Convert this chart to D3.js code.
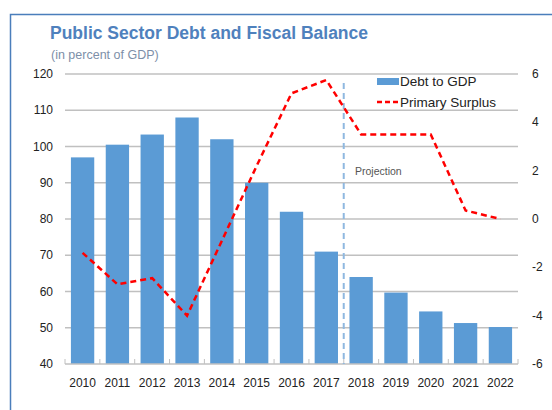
<!DOCTYPE html>
<html>
<head>
<meta charset="utf-8">
<script src="https://cdn.jsdelivr.net/npm/d3@7"></script>
<style>
  body { margin: 0; background: #fff; }
  text { font-family: "Liberation Sans", Arial, sans-serif; }
</style>
</head>
<body>
<svg id="chart" width="552" height="410"></svg>
<script>
// data
const years = ["2010", "2011", "2012", "2013", "2014", "2015", "2016",
               "2017", "2018", "2019", "2020", "2021", "2022"];
const debtToGdp = [97, 100.5, 103.3, 108, 102, 90, 82, 71, 64, 59.7, 54.5, 51.3, 50.2];
const primarySurplus = [-1.4, -2.7, -2.45, -4.0, -0.9, 2.2, 5.2, 5.75, 3.5, 3.5, 3.5, 0.35, 0.0];
const leftTicks = [40, 50, 60, 70, 80, 90, 100, 110, 120];
const rightTicks = [-6, -4, -2, 0, 2, 4, 6];

let svg = d3.select("#chart");
let plotLeft = 65, plotRight = 518, plotTop = 74, plotBottom = 364;

// frame
svg.append("path")
    .attr("d", "M10.5,410 L10.5,14.5 L552,14.5")
    .attr("fill", "none")
    .attr("stroke", "#4a7ebb")
    .attr("stroke-width", 1.5);

svg.append("text")
    .attr("x", 50).attr("y", 39)
    .attr("font-size", 17.5).attr("font-weight", "bold")
    .attr("fill", "#4f81bd")
    .text("Public Sector Debt and Fiscal Balance");

svg.append("text")
    .attr("x", 51).attr("y", 59)
    .attr("font-size", 12.5)
    .attr("fill", "#7d8fa8")
    .text("(in percent of GDP)");

let x = d3.scaleBand().domain(years).range([plotLeft, plotRight]).paddingInner(0.33).paddingOuter(0.17);
let yL = d3.scaleLinear().domain([40, 120]).range([plotBottom, plotTop]);
let yR = d3.scaleLinear().domain([-6, 6]).range([plotBottom, plotTop]);

// gridlines
svg.append("g").selectAll("line")
    .data(leftTicks.slice(1))
    .enter().append("line")
    .attr("x1", plotLeft).attr("x2", plotRight)
    .attr("y1", d => yL(d)).attr("y2", d => yL(d))
    .attr("stroke", "#c0c0c0").attr("stroke-width", 1.5);

// left axis labels
svg.append("g").selectAll("text")
    .data(leftTicks)
    .enter().append("text")
    .attr("x", 53).attr("y", d => yL(d) + 4)
    .attr("text-anchor", "end")
    .attr("font-size", 12).attr("fill", "#222")
    .text(d => d);

// right axis labels
svg.append("g").selectAll("text")
    .data(rightTicks)
    .enter().append("text")
    .attr("x", 532).attr("y", d => yR(d) + 4)
    .attr("font-size", 12).attr("fill", "#222")
    .text(d => d);

// bars
svg.append("g").selectAll("rect")
    .data(debtToGdp)
    .enter().append("rect")
    .attr("x", (d, i) => x(years[i]))
    .attr("width", x.bandwidth())
    .attr("y", d => yL(d))
    .attr("height", d => plotBottom - yL(d))
    .attr("fill", "#5b9bd5");

// x axis
let xAxis = svg.append("g");
xAxis.append("line")
    .attr("x1", plotLeft).attr("x2", plotRight)
    .attr("y1", plotBottom).attr("y2", plotBottom)
    .attr("stroke", "#c0c0c0").attr("stroke-width", 1.5);
xAxis.selectAll(".tick")
    .data(d3.range(years.length + 1))
    .enter().append("line")
    .attr("x1", i => plotLeft + i * (plotRight - plotLeft) / years.length)
    .attr("x2", i => plotLeft + i * (plotRight - plotLeft) / years.length)
    .attr("y1", plotBottom).attr("y2", plotBottom - 5)
    .attr("stroke", "#c0c0c0").attr("stroke-width", 1);
xAxis.selectAll("text")
    .data(years)
    .enter().append("text")
    .attr("x", d => x(d) + x.bandwidth() / 2)
    .attr("y", 387)
    .attr("text-anchor", "middle")
    .attr("font-size", 12).attr("fill", "#222")
    .text(d => d);

// projection marker
let projX = (x("2017") + x.bandwidth() + x("2018")) / 2;
svg.append("line")
    .attr("x1", projX).attr("x2", projX)
    .attr("y1", 83).attr("y2", plotBottom)
    .attr("stroke", "#8fb8e0").attr("stroke-width", 2)
    .attr("stroke-dasharray", "6,4");
svg.append("text")
    .attr("x", 355).attr("y", 175)
    .attr("font-size", 10.5).attr("fill", "#555")
    .text("Projection");

// primary surplus line
let line = d3.line()
    .x((d, i) => x(years[i]) + x.bandwidth() / 2)
    .y(d => yR(d));
svg.append("path")
    .datum(primarySurplus)
    .attr("d", line)
    .attr("fill", "none")
    .attr("stroke", "#ff0000")
    .attr("stroke-width", 2.5)
    .attr("stroke-dasharray", "6,4");

// legend
let legend = svg.append("g");
legend.append("rect")
    .attr("x", 377).attr("y", 78).attr("width", 22).attr("height", 7)
    .attr("fill", "#5b9bd5");
legend.append("text")
    .attr("x", 400).attr("y", 86)
    .attr("font-size", 13.5).attr("fill", "#222")
    .text("Debt to GDP");
legend.append("line")
    .attr("x1", 377).attr("x2", 400).attr("y1", 102).attr("y2", 102)
    .attr("stroke", "#ff0000").attr("stroke-width", 2.5)
    .attr("stroke-dasharray", "5,3");
legend.append("text")
    .attr("x", 400).attr("y", 107)
    .attr("font-size", 13.5).attr("fill", "#222")
    .text("Primary Surplus");
</script>
</body>
</html>
